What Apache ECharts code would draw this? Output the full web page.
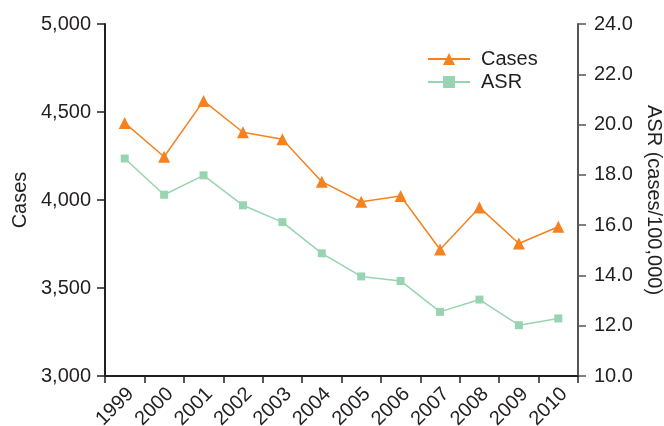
<!DOCTYPE html>
<html><head><meta charset="utf-8">
<script src="https://cdn.jsdelivr.net/npm/echarts@6/dist/echarts.min.js"></script>
<style>html,body{margin:0;padding:0;background:#fff}#c{width:664px;height:426px}</style>
</head><body><div id="c"></div>
<script>
const years = ['1999','2000','2001','2002','2003','2004','2005','2006','2007','2008','2009','2010'];
const cases = [4438, 4246, 4563, 4385, 4345, 4104, 3990, 4023, 3719, 3958, 3753, 3848];
const asr = [18.65, 17.21, 17.98, 16.79, 16.12, 14.88, 13.96, 13.78, 12.55, 13.04, 12.02, 12.29];

const FONT = 'Liberation Sans';
const TXT = '#231f20';
const ORANGE = '#f5821f';
const GREEN = '#98d4b1';

const chart = echarts.init(document.getElementById('c'));
chart.setOption({
  animation: false,
  textStyle: {fontFamily: FONT},
  grid: {left: 105, right: 86, top: 24, bottom: 50, containLabel: false, outerBoundsMode: 'none'},
  legend: {
    orient: 'vertical', left: 427, top: 49, padding: 0,
    itemWidth: 42, itemHeight: 15, itemGap: 3,
    textStyle: {fontFamily: FONT, fontSize: 20, color: TXT, padding: [0,0,0,6], lineHeight: 20},
    data: ['Cases', 'ASR']
  },
  xAxis: {
    type: 'category', data: years, boundaryGap: true,
    axisLine: {lineStyle: {color: TXT, width: 2}},
    axisTick: {show: true, length: 7, lineStyle: {color: TXT, width: 1.5}},
    axisLabel: {rotate: 45, interval: 0, showMinLabel: true, showMaxLabel: true, hideOverlap: false,
      fontSize: 20, color: TXT, margin: 9, verticalAlign: 'top', lineHeight: 17, fontFamily: FONT}
  },
  yAxis: [
    {
      type: 'value', min: 3000, max: 5000, interval: 500, position: 'left',
      name: 'Cases', nameLocation: 'middle', nameGap: 75, nameRotate: 90,
      nameTextStyle: {fontSize: 20, color: TXT, fontFamily: FONT},
      axisLine: {show: true, lineStyle: {color: TXT, width: 2}},
      axisTick: {show: true, length: 8, lineStyle: {color: TXT, width: 1.5}},
      axisLabel: {fontSize: 20, color: TXT, margin: 14, fontFamily: FONT,
        formatter: v => v.toLocaleString('en-US')},
      splitLine: {show: false}
    },
    {
      type: 'value', min: 10, max: 24, interval: 2, position: 'right',
      name: 'ASR (cases/100,000)', nameLocation: 'middle', nameGap: 64, nameRotate: -90,
      nameTextStyle: {fontSize: 20, color: TXT, fontFamily: FONT},
      axisLine: {show: true, lineStyle: {color: '#555', width: 2}},
      axisTick: {show: true, length: 8, lineStyle: {color: '#555', width: 1.5}},
      axisLabel: {fontSize: 20, color: TXT, margin: 16, fontFamily: FONT,
        formatter: v => v.toFixed(1)},
      splitLine: {show: false}
    }
  ],
  series: [
    {
      name: 'Cases', type: 'line', yAxisIndex: 0, data: cases,
      symbol: 'triangle', symbolSize: 12,
      lineStyle: {color: ORANGE, width: 1.5}, itemStyle: {color: ORANGE}
    },
    {
      name: 'ASR', type: 'line', yAxisIndex: 1, data: asr,
      symbol: 'rect', symbolSize: 8,
      lineStyle: {color: GREEN, width: 1.5}, itemStyle: {color: GREEN}
    }
  ]
});
</script></body></html>
